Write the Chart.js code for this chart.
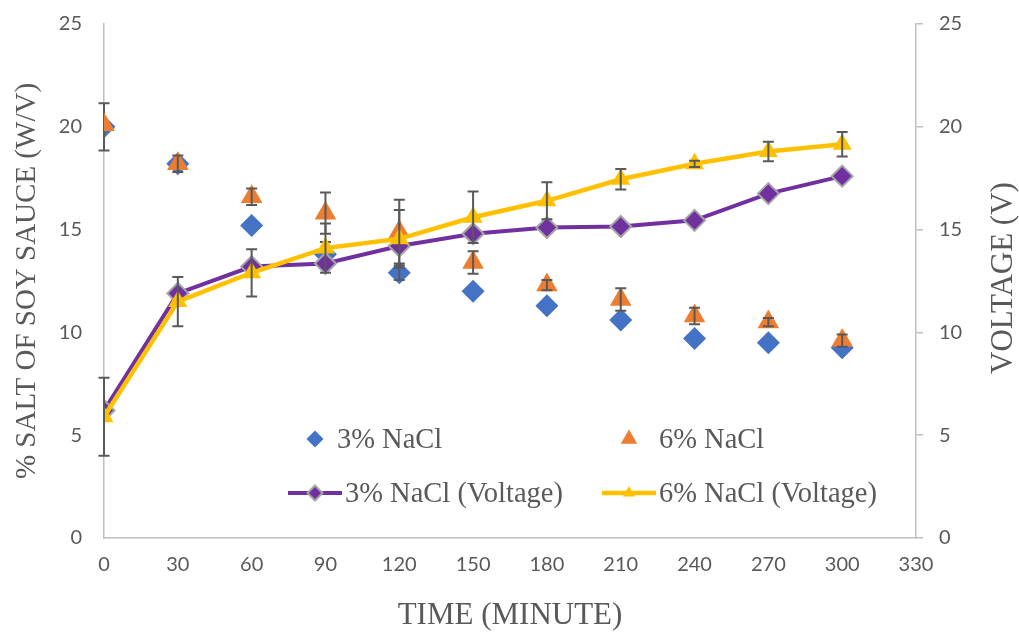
<!DOCTYPE html>
<html>
<head>
<meta charset="utf-8">
<script src="https://cdn.jsdelivr.net/npm/chart.js@4.4.1/dist/chart.umd.min.js"></script>
<style>
  html, body { margin: 0; padding: 0; background: #ffffff; }
  #wrap { width: 1019px; height: 632px; }
</style>
</head>
<body>
<div id="wrap"><canvas id="saltChart"></canvas></div>
<script>
// time axis (minutes)
const timeMinutes = [0, 30, 60, 90, 120, 150, 180, 210, 240, 270, 300];

// % salt of soy sauce (left axis)
const salt3 = [20.0, 18.2, 15.2, 13.8, 12.9, 12.0, 11.3, 10.6, 9.7, 9.5, 9.25];
const salt6 = [20.1, 18.2, 16.6, 15.8, 14.9, 13.4, 12.3, 11.6, 10.8, 10.5, 9.6];

// voltage (right axis)
const volt3 = [6.2, 11.9, 13.2, 13.35, 14.2, 14.8, 15.1, 15.15, 15.45, 16.75, 17.6];
const volt6 = [5.9, 11.5, 12.9, 14.1, 14.55, 15.6, 16.4, 17.45, 18.2, 18.8, 19.15];

// error bar half-lengths
const salt3Err = [1.15, 0, 0, 0.6, 0.35, 0, 0, 0, 0, 0, 0];
const salt6Err = [0, 0.4, 0.4, 1.0, 1.55, 0.55, 0.25, 0.55, 0.4, 0.2, 0.3];
const volt3Err = [0, 0, 0, 0, 0, 0, 0, 0, 0, 0, 0];
const volt6Err = [1.9, 1.2, 1.15, 1.2, 1.4, 1.25, 0.9, 0.5, 0.15, 0.47, 0.6];

const seriesLabels = ["3% NaCl", "6% NaCl", "3% NaCl (Voltage)", "6% NaCl (Voltage)"];
const rightTitle = "VOLTAGE (V)";

const textGrey = "#595959";
const axisGrey = "#BFBFBF";
// tiny lineHeight so the tick labels don't push the plot area down
const tickFont = { family: "Lato", size: 20, lineHeight: 0.2 };

const toPoints = (ys) => timeMinutes.map((t, i) => ({ x: t, y: ys[i] }));

// draws the vertical error bars right after each dataset
const errorBars = {
  id: "errorBars",
  afterDatasetDraw(chart, args) {
    const ds = chart.data.datasets[args.index];
    if (!ds.errors) return;
    const xs = chart.scales[args.meta.xAxisID];
    const ys = chart.scales[args.meta.yAxisID];
    const ctx = chart.ctx;
    ctx.save();
    ctx.strokeStyle = "#595959";
    ctx.lineWidth = 2;
    ds.errors.forEach((e, i) => {
      if (!e) return;
      const p = ds.data[i];
      const x = xs.getPixelForValue(p.x);
      const top = ys.getPixelForValue(p.y + e);
      const bot = ys.getPixelForValue(p.y - e);
      ctx.beginPath();
      ctx.moveTo(x, top);
      ctx.lineTo(x, bot);
      ctx.moveTo(x - 5.5, top);
      ctx.lineTo(x + 5.5, top);
      ctx.moveTo(x - 5.5, bot);
      ctx.lineTo(x + 5.5, bot);
      ctx.stroke();
    });
    ctx.restore();
  },
};

function marker(ctx, style, x, y, r, fill, stroke, sw) {
  ctx.beginPath();
  if (style === "rectRot") {
    ctx.moveTo(x, y - r);
    ctx.lineTo(x + r, y);
    ctx.lineTo(x, y + r);
    ctx.lineTo(x - r, y);
  } else {
    ctx.moveTo(x, y - r);
    ctx.lineTo(x + r * 0.866, y + r * 0.5);
    ctx.lineTo(x - r * 0.866, y + r * 0.5);
  }
  ctx.closePath();
  ctx.fillStyle = fill;
  ctx.fill();
  if (sw) {
    ctx.strokeStyle = stroke;
    ctx.lineWidth = sw;
    ctx.stroke();
  }
}

// 2x2 legend inside the plot area + right axis title (reads bottom to top)
const boxLegend = {
  id: "boxLegend",
  afterDraw(chart) {
    const { ctx, chartArea } = chart;
    const colX = [chartArea.left + 211, chartArea.left + 525];
    const rowY = [chartArea.bottom - 99, chartArea.bottom - 45];
    const markR = [8.5, 9.5, 7.5, 7];
    const textOff = [22, 30, 30, 30];
    ctx.save();
    ctx.font = '28.5px "Liberation Serif"';
    ctx.textBaseline = "middle";
    chart.data.datasets.forEach((ds, i) => {
      const cx = colX[i % 2];
      const cy = rowY[Math.floor(i / 2)];
      if (ds.showLine) {
        ctx.beginPath();
        ctx.moveTo(cx - 27, cy);
        ctx.lineTo(cx + 27, cy);
        ctx.strokeStyle = ds.borderColor;
        ctx.lineWidth = ds.borderWidth;
        ctx.stroke();
        marker(ctx, ds.pointStyle, cx, cy, markR[i], ds.pointBackgroundColor, ds.pointBorderColor, ds.pointBorderWidth);
      } else {
        marker(ctx, ds.pointStyle, cx, cy, markR[i], ds.pointBackgroundColor, null, 0);
      }
      ctx.fillStyle = textGrey;
      ctx.fillText(ds.label, cx + textOff[i], cy + 2);
    });

    const y1 = chart.scales.y1;
    ctx.translate(chart.width - 15, (y1.top + y1.bottom) / 2 - 3);
    ctx.rotate(-Math.PI / 2);
    ctx.font = '31px "Liberation Serif"';
    ctx.textAlign = "center";
    ctx.fillStyle = textGrey;
    ctx.fillText(rightTitle, 0, 0);
    ctx.restore();
  },
};

new Chart(document.getElementById("saltChart"), {
  type: "scatter",
  data: {
    datasets: [
      {
        label: seriesLabels[0],
        data: toPoints(salt3),
        errors: salt3Err,
        yAxisID: "y",
        order: 4,
        pointStyle: "rectRot",
        pointRadius: 11.5,
        pointBackgroundColor: "#4472C4",
        pointBorderColor: "#4472C4",
        pointBorderWidth: 0,
      },
      {
        label: seriesLabels[1],
        data: toPoints(salt6),
        errors: salt6Err,
        yAxisID: "y",
        order: 3,
        pointStyle: "triangle",
        pointRadius: 12.5,
        pointBackgroundColor: "#ED7D31",
        pointBorderColor: "#ED7D31",
        pointBorderWidth: 0,
      },
      {
        label: seriesLabels[2],
        data: toPoints(volt3),
        errors: volt3Err,
        yAxisID: "y1",
        order: 2,
        showLine: true,
        tension: 0,
        borderColor: "#7030A0",
        borderWidth: 4,
        pointStyle: "rectRot",
        pointRadius: 10.5,
        pointBackgroundColor: "#7030A0",
        pointBorderColor: "#A5A5A5",
        pointBorderWidth: 2,
      },
      {
        label: seriesLabels[3],
        data: toPoints(volt6),
        errors: volt6Err,
        yAxisID: "y1",
        order: 1,
        showLine: true,
        tension: 0,
        borderColor: "#FFC000",
        borderWidth: 4.5,
        pointStyle: "triangle",
        pointRadius: 11,
        pointBackgroundColor: "#FFC000",
        pointBorderColor: "#FFC000",
        pointBorderWidth: 0,
      },
    ],
  },
  options: {
    responsive: true,
    maintainAspectRatio: false,
    animation: false,
    events: [],
    layout: { padding: { top: 24, left: 0, right: 0, bottom: 0 } },
    plugins: {
      legend: { display: false },
      tooltip: { enabled: false },
    },
    scales: {
      x: {
        type: "linear",
        position: "bottom",
        min: 0,
        max: 330,
        grid: { display: false, drawTicks: false },
        border: { display: true, color: axisGrey, width: 1.5 },
        ticks: { stepSize: 30, color: textGrey, font: { family: "Lato", size: 20 }, padding: 15 },
        title: {
          display: true,
          text: "TIME (MINUTE)",
          color: textGrey,
          font: { family: "Liberation Serif", size: 31, lineHeight: 1.0 },
          padding: { top: 0, bottom: 1 },
        },
        afterFit(scale) { scale.height = 94; },
      },
      y: {
        position: "left",
        min: 0,
        max: 25,
        grid: { display: false, drawTicks: false },
        border: { display: true, color: axisGrey, width: 1.5 },
        ticks: { stepSize: 5, color: textGrey, font: tickFont, padding: 22 },
        title: {
          display: true,
          text: "% SALT OF SOY SAUCE (W/V)",
          color: textGrey,
          font: { family: "Liberation Serif", size: 29, lineHeight: 1.0 },
          padding: { top: 13, bottom: 0 },
        },
        afterFit(scale) { scale.width = 104; },
      },
      y1: {
        position: "right",
        min: 0,
        max: 25,
        grid: { display: true, drawOnChartArea: false, drawTicks: true, tickLength: 7, color: axisGrey, lineWidth: 1.5 },
        border: { display: true, color: axisGrey, width: 1.5 },
        ticks: { stepSize: 5, color: textGrey, font: tickFont, padding: 16 },
        title: { display: false },
        afterFit(scale) { scale.width = 103; },
      },
    },
  },
  plugins: [errorBars, boxLegend],
});
</script>
</body>
</html>
